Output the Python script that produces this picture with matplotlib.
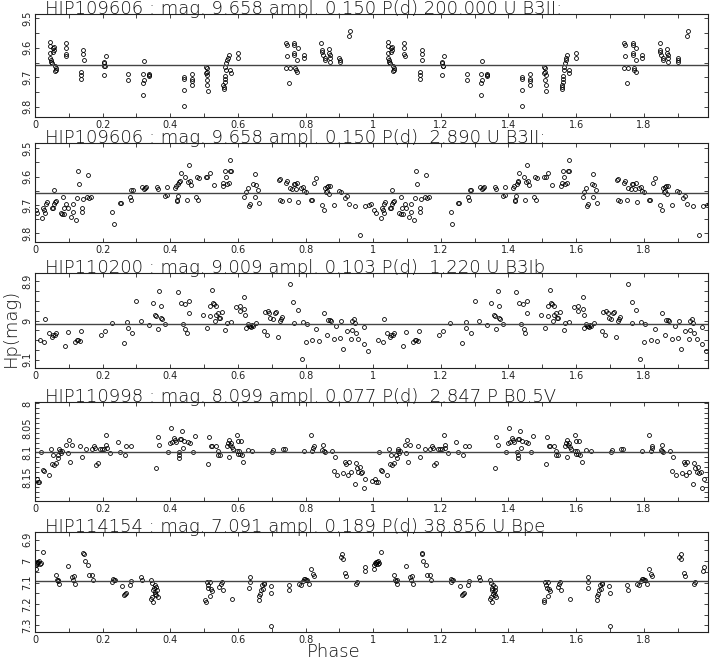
import numpy as np
import matplotlib
matplotlib.use("Agg")
import matplotlib.pyplot as plt
from matplotlib.ticker import MultipleLocator, FormatStrFormatter

# ---- data (phase in [0,1), Hp magnitude) ----
phase_1 = [0.043, 0.044, 0.044, 0.045, 0.046, 0.047, 0.049, 0.054, 0.055, 0.054, 0.056,
           0.059, 0.061, 0.062, 0.060, 0.091, 0.092, 0.091, 0.093,
           0.143, 0.143, 0.144, 0.137, 0.137, 0.137,
           0.204, 0.203, 0.205, 0.204, 0.210, 0.207, 0.276, 0.276,
           0.322, 0.320, 0.323, 0.320, 0.319, 0.337, 0.338, 0.337,
           0.440, 0.441, 0.440, 0.440, 0.465, 0.465, 0.465, 0.465,
           0.506, 0.508, 0.509, 0.506, 0.510, 0.509, 0.510, 0.511,
           0.557, 0.558, 0.559, 0.561, 0.561, 0.562, 0.564, 0.563, 0.566, 0.569, 0.571, 0.573,
           0.578, 0.580, 0.599, 0.599,
           0.743, 0.744, 0.744, 0.743, 0.753, 0.751,
           0.767, 0.767, 0.767, 0.767, 0.770, 0.772, 0.776, 0.777, 0.776, 0.796, 0.796,
           0.847, 0.848, 0.849, 0.852, 0.857, 0.858, 0.870, 0.871, 0.871, 0.872, 0.869,
           0.900, 0.901, 0.902, 0.930, 0.929]
mag_1 = [9.580, 9.593, 9.619, 9.636, 9.642, 9.649, 9.653, 9.600, 9.606, 9.614, 9.597,
         9.663, 9.669, 9.676, 9.680, 9.583, 9.599, 9.622, 9.628,
         9.608, 9.622, 9.642, 9.682, 9.693, 9.707,
         9.648, 9.653, 9.660, 9.693, 9.627, 9.663, 9.688, 9.710,
         9.645, 9.690, 9.708, 9.719, 9.759, 9.690, 9.697, 9.693,
         9.699, 9.707, 9.742, 9.799, 9.690, 9.707, 9.714, 9.725,
         9.665, 9.670, 9.682, 9.685, 9.693, 9.708, 9.725, 9.747,
         9.725, 9.733, 9.739, 9.716, 9.705, 9.697, 9.676, 9.665, 9.653, 9.642, 9.633, 9.625,
         9.676, 9.685, 9.616, 9.634,
         9.582, 9.591, 9.628, 9.667, 9.667, 9.719,
         9.582, 9.591, 9.619, 9.625, 9.670, 9.676, 9.682, 9.600, 9.640, 9.625, 9.633,
         9.585, 9.608, 9.614, 9.625, 9.633, 9.640, 9.605, 9.625, 9.633, 9.648, 9.619,
         9.633, 9.642, 9.647, 9.543, 9.560]

phase_2 = [0.002, 0.007, 0.022, 0.025, 0.028, 0.031, 0.032, 0.035, 0.050, 0.054, 0.056, 0.057,
           0.059, 0.062, 0.077, 0.081, 0.083, 0.086, 0.087, 0.093, 0.098, 0.105, 0.111, 0.113,
           0.120, 0.123, 0.126, 0.131, 0.138, 0.139, 0.142, 0.154, 0.157, 0.160, 0.165,
           0.229, 0.233, 0.250, 0.255, 0.280, 0.283, 0.285, 0.290, 0.316, 0.321, 0.325, 0.329,
           0.361, 0.363, 0.385, 0.391, 0.391, 0.413, 0.417, 0.419, 0.420, 0.422, 0.424, 0.427,
           0.429, 0.432, 0.445, 0.449, 0.452, 0.455, 0.459, 0.462, 0.476, 0.481, 0.478, 0.484,
           0.505, 0.510, 0.518, 0.528, 0.555, 0.557, 0.562, 0.565, 0.578, 0.567, 0.576, 0.573,
           0.580, 0.619, 0.624, 0.629, 0.632, 0.636, 0.646, 0.650, 0.651, 0.653, 0.658, 0.663,
           0.722, 0.725, 0.724, 0.730, 0.742, 0.746, 0.750, 0.753, 0.761, 0.766, 0.769, 0.773,
           0.776, 0.779, 0.786, 0.791, 0.796, 0.801, 0.815, 0.818, 0.826, 0.832, 0.848, 0.855,
           0.858, 0.860, 0.862, 0.864, 0.867, 0.869, 0.871, 0.884, 0.899, 0.904, 0.917, 0.923,
           0.928, 0.945, 0.962, 0.975, 0.988, 0.993]
mag_2 = [9.716, 9.729, 9.747, 9.712, 9.718, 9.728, 9.695, 9.691, 9.712, 9.712, 9.647, 9.695,
         9.688, 9.686, 9.729, 9.731, 9.671, 9.712, 9.731, 9.695, 9.712, 9.741, 9.695, 9.726,
         9.753, 9.676, 9.579, 9.625, 9.712, 9.726, 9.679, 9.672, 9.594, 9.674, 9.672,
         9.726, 9.766, 9.692, 9.692, 9.671, 9.682, 9.646, 9.648, 9.635, 9.644, 9.639, 9.636,
         9.635, 9.644, 9.667, 9.635, 9.665, 9.641, 9.632, 9.682, 9.686, 9.669, 9.627, 9.620,
         9.615, 9.588, 9.602, 9.682, 9.618, 9.561, 9.615, 9.629, 9.671, 9.682, 9.600, 9.606,
         9.602, 9.602, 9.588, 9.629, 9.633, 9.624, 9.582, 9.600, 9.540, 9.627, 9.582, 9.624,
         9.582, 9.671, 9.653, 9.639, 9.702, 9.698, 9.625, 9.591, 9.671, 9.629, 9.647, 9.694,
         9.612, 9.608, 9.682, 9.685, 9.624, 9.615, 9.682, 9.639, 9.644, 9.627, 9.627, 9.644,
         9.624, 9.691, 9.641, 9.635, 9.651, 9.653, 9.682, 9.682, 9.624, 9.606, 9.700, 9.718,
         9.639, 9.653, 9.651, 9.635, 9.632, 9.662, 9.632, 9.700, 9.651, 9.653, 9.674, 9.668,
         9.698, 9.702, 9.805, 9.704, 9.700, 9.697]

phase_3 = [0.015, 0.028, 0.031, 0.042, 0.049, 0.054, 0.059, 0.062, 0.088, 0.098, 0.118, 0.123,
           0.128, 0.133, 0.135, 0.196, 0.206, 0.228, 0.262, 0.273, 0.275, 0.288, 0.300, 0.312,
           0.337, 0.349, 0.356, 0.359, 0.364, 0.368, 0.372, 0.373, 0.375, 0.385, 0.422, 0.432,
           0.437, 0.443, 0.445, 0.450, 0.455, 0.455, 0.496, 0.508, 0.516, 0.518, 0.523, 0.526,
           0.529, 0.531, 0.534, 0.535, 0.540, 0.543, 0.547, 0.553, 0.563, 0.568, 0.580, 0.594,
           0.606, 0.606, 0.619, 0.619, 0.622, 0.624, 0.629, 0.632, 0.636, 0.639, 0.642, 0.645,
           0.653, 0.678, 0.680, 0.686, 0.688, 0.693, 0.696, 0.704, 0.710, 0.712, 0.718, 0.724,
           0.727, 0.730, 0.753, 0.764, 0.766, 0.778, 0.789, 0.791, 0.801, 0.804, 0.820, 0.832,
           0.840, 0.855, 0.864, 0.866, 0.871, 0.876, 0.884, 0.891, 0.901, 0.904, 0.911, 0.923,
           0.933, 0.936, 0.938, 0.943, 0.946, 0.950, 0.956, 0.972, 0.973, 0.985]
mag_3 = [9.050, 9.054, 8.997, 9.031, 9.042, 9.038, 9.036, 9.033, 9.066, 9.030, 9.055, 9.050,
         9.050, 9.052, 9.027, 9.037, 9.026, 9.006, 9.057, 9.004, 9.018, 9.031, 8.951, 9.000,
         9.012, 8.955, 8.985, 8.989, 9.021, 8.925, 8.962, 8.993, 8.997, 9.010, 8.928, 8.955,
         9.008, 8.957, 9.021, 9.033, 8.951, 8.982, 8.985, 9.020, 8.989, 8.962, 8.923, 8.955,
         8.959, 9.002, 8.985, 8.963, 8.980, 8.993, 8.993, 8.978, 9.025, 9.006, 9.004, 8.965,
         8.962, 8.976, 8.940, 8.970, 8.987, 9.019, 9.010, 9.014, 9.013, 9.016, 9.011, 9.014,
         9.006, 9.027, 8.979, 9.038, 8.976, 8.980, 8.993, 8.996, 8.980, 8.979, 9.042, 9.000,
         8.997, 8.991, 8.906, 8.953, 9.006, 8.972, 9.098, 9.003, 9.055, 9.008, 9.049, 9.021,
         9.053, 8.980, 9.036, 8.999, 8.999, 9.002, 9.046, 9.014, 9.044, 9.002, 9.072, 9.026,
         9.047, 9.002, 9.023, 8.996, 9.006, 9.031, 9.047, 9.016, 9.061, 9.078]

phase_4 = [0.005, 0.008, 0.013, 0.017, 0.023, 0.027, 0.042, 0.047, 0.049, 0.054, 0.057, 0.062,
           0.068, 0.069, 0.072, 0.074, 0.076, 0.079, 0.093, 0.098, 0.101, 0.103, 0.108, 0.133,
           0.138, 0.152, 0.169, 0.175, 0.177, 0.179, 0.185, 0.192, 0.197, 0.203, 0.209, 0.211,
           0.213, 0.221, 0.246, 0.251, 0.265, 0.270, 0.283, 0.359, 0.363, 0.368, 0.393, 0.398,
           0.402, 0.406, 0.410, 0.413, 0.416, 0.425, 0.427, 0.427, 0.429, 0.432, 0.435, 0.437,
           0.440, 0.452, 0.459, 0.466, 0.472, 0.511, 0.514, 0.521, 0.523, 0.535, 0.540, 0.542,
           0.547, 0.567, 0.570, 0.573, 0.573, 0.577, 0.580, 0.582, 0.584, 0.596, 0.597, 0.599,
           0.601, 0.604, 0.607, 0.609, 0.611, 0.616, 0.629, 0.643, 0.702, 0.705, 0.734, 0.740,
           0.796, 0.817, 0.820, 0.823, 0.825, 0.850, 0.853, 0.855, 0.858, 0.879, 0.887, 0.884,
           0.894, 0.912, 0.918, 0.921, 0.926, 0.928, 0.933, 0.946, 0.950, 0.953, 0.956, 0.960,
           0.963, 0.968, 0.972, 0.977, 0.996]
mag_4 = [8.154, 8.160, 8.160, 8.100, 8.135, 8.137, 8.145, 8.092, 8.123, 8.106, 8.126, 8.121,
         8.106, 8.111, 8.092, 8.097, 8.101, 8.096, 8.085, 8.102, 8.074, 8.119, 8.085, 8.087,
         8.109, 8.092, 8.093, 8.086, 8.090, 8.126, 8.121, 8.093, 8.093, 8.093, 8.065, 8.085,
         8.090, 8.102, 8.078, 8.099, 8.106, 8.086, 8.086, 8.132, 8.069, 8.085, 8.100, 8.080,
         8.050, 8.078, 8.071, 8.074, 8.078, 8.100, 8.106, 8.111, 8.073, 8.072, 8.057, 8.090,
         8.076, 8.078, 8.081, 8.100, 8.067, 8.123, 8.069, 8.086, 8.086, 8.087, 8.097, 8.106,
         8.106, 8.086, 8.081, 8.074, 8.109, 8.085, 8.081, 8.089, 8.093, 8.064, 8.097, 8.076,
         8.104, 8.097, 8.104, 8.076, 8.106, 8.119, 8.095, 8.097, 8.100, 8.095, 8.092, 8.093,
         8.096, 8.064, 8.097, 8.090, 8.086, 8.095, 8.085, 8.097, 8.100, 8.097, 8.109, 8.137,
         8.145, 8.142, 8.119, 8.123, 8.145, 8.119, 8.140, 8.165, 8.121, 8.132, 8.140, 8.130,
         8.142, 8.140, 8.172, 8.154, 8.158]

phase_5 = [0.002, 0.003, 0.005, 0.007, 0.010, 0.013, 0.015, 0.017, 0.007, 0.023, 0.062, 0.064,
           0.067, 0.069, 0.071, 0.098, 0.108, 0.111, 0.115, 0.117, 0.143, 0.144, 0.147, 0.157,
           0.159, 0.169, 0.172, 0.231, 0.233, 0.236, 0.229, 0.258, 0.262, 0.265, 0.268, 0.280,
           0.283, 0.314, 0.316, 0.344, 0.347, 0.350, 0.347, 0.344, 0.350, 0.351, 0.354, 0.356,
           0.359, 0.361, 0.364, 0.359, 0.354, 0.509, 0.511, 0.504, 0.506, 0.513, 0.516, 0.518,
           0.521, 0.524, 0.545, 0.550, 0.553, 0.555, 0.583, 0.635, 0.636, 0.634, 0.661, 0.663,
           0.666, 0.668, 0.671, 0.673, 0.676, 0.678, 0.697, 0.699, 0.699, 0.750, 0.752, 0.781,
           0.786, 0.791, 0.794, 0.798, 0.802, 0.805, 0.810, 0.815, 0.822, 0.825, 0.904, 0.909,
           0.911, 0.918, 0.921, 0.953, 0.950, 0.977, 0.976]
mag_5 = [7.035, 7.020, 7.009, 7.004, 7.004, 7.001, 7.012, 7.009, 7.015, 6.958, 7.067, 7.087,
         7.093, 7.090, 7.109, 7.025, 7.074, 7.090, 7.071, 7.109, 6.962, 6.968, 7.000, 7.017,
         7.067, 7.067, 7.087, 7.085, 7.090, 7.087, 7.098, 7.118, 7.160, 7.152, 7.149, 7.110,
         7.093, 7.074, 7.087, 7.087, 7.102, 7.137, 7.168, 7.175, 7.191, 7.124, 7.113, 7.146,
         7.160, 7.133, 7.168, 7.121, 7.152, 7.098, 7.113, 7.183, 7.191, 7.124, 7.098, 7.165,
         7.132, 7.140, 7.121, 7.105, 7.098, 7.133, 7.179, 7.074, 7.098, 7.124, 7.180, 7.165,
         7.155, 7.137, 7.113, 7.129, 7.105, 7.102, 7.118, 7.149, 7.305, 7.113, 7.133, 7.105,
         7.113, 7.095, 7.085, 7.082, 7.090, 7.087, 7.105, 7.035, 7.059, 7.071, 6.981, 6.968,
         6.989, 7.056, 7.071, 7.098, 7.105, 7.028, 7.048]

titles = ["HIP109606 : mag. 9.658 ampl. 0.150 P(d) 200.000 U B3II:",
          "HIP109606 : mag. 9.658 ampl. 0.150 P(d)  2.890 U B3II:",
          "HIP110200 : mag. 9.009 ampl. 0.103 P(d)  1.220 U B3Ib",
          "HIP110998 : mag. 8.099 ampl. 0.077 P(d)  2.847 P B0.5V",
          "HIP114154 : mag. 7.091 ampl. 0.189 P(d) 38.856 U Bpe"]
mean_mag = [9.658, 9.658, 9.009, 8.099, 7.091]

phases = [phase_1, phase_2, phase_3, phase_4, phase_5]
mags = [mag_1, mag_2, mag_3, mag_4, mag_5]

# panel settings: y limits (bottom, top), major and minor y steps
ylims = [(9.835, 9.485), (9.83, 9.482), (9.121, 8.879), (8.199, 7.997), (7.331, 6.864)]
ymajor = [0.1, 0.1, 0.1, 0.05, 0.1]
yminor = [0.05, 0.05, 0.025, 0.01, 0.05]
# pixel rows (top, bottom) of each frame in the 713x660 picture
rows = [(14, 117), (143, 242), (273, 368), (402, 501), (532, 632)]

W, H = 713, 660
fig = plt.figure(figsize=(W / 100, H / 100), dpi=100)
ink = "#222222"
txt = dict(family="DejaVu Sans", fontweight="light", color="#111111")

for i in range(5):
    top, bot = rows[i]
    ax = fig.add_axes([35 / W, 1 - bot / H, 673 / W, (bot - top) / H])
    p = np.array(phases[i])
    m = np.array(mags[i])
    ax.plot(np.concatenate([p, p + 1]), np.concatenate([m, m]), "o",
            mfc="none", mec="black", ms=2.8, mew=0.6)
    ax.axhline(mean_mag[i], color="#444444", lw=1.0)
    ax.set_xlim(0, 1.99)
    ax.set_ylim(*ylims[i])

    ax.xaxis.set_major_locator(MultipleLocator(0.2))
    ax.xaxis.set_minor_locator(MultipleLocator(0.1))
    ax.yaxis.set_major_locator(MultipleLocator(ymajor[i]))
    ax.yaxis.set_minor_locator(MultipleLocator(yminor[i]))
    ax.xaxis.set_major_formatter(FormatStrFormatter("%g"))
    ax.yaxis.set_major_formatter(FormatStrFormatter("%g"))
    ax.tick_params(which="both", direction="in", top=True, right=True,
                   length=3, width=0.6, color=ink, labelsize=7, labelcolor=ink)
    ax.tick_params(axis="x", pad=2.5)
    ax.tick_params(axis="y", pad=2)
    for lab in ax.get_yticklabels():
        lab.set_rotation(90)
        lab.set_va("center")
    for s in ax.spines.values():
        s.set_linewidth(0.8)
        s.set_color(ink)

    ax.text(10 / 673, 1.0, titles[i], transform=ax.transAxes, ha="left", va="baseline",
            fontsize=13, **txt)

fig.text(11 / W, 1 - 328 / H, "Hp(mag)", rotation=90, ha="center", va="center",
         fontsize=13, **txt)
fig.text(334 / W, 1 - 657 / H, "Phase", ha="center", va="baseline",
         fontsize=13, **txt)

fig.savefig("out.png", dpi=100)
